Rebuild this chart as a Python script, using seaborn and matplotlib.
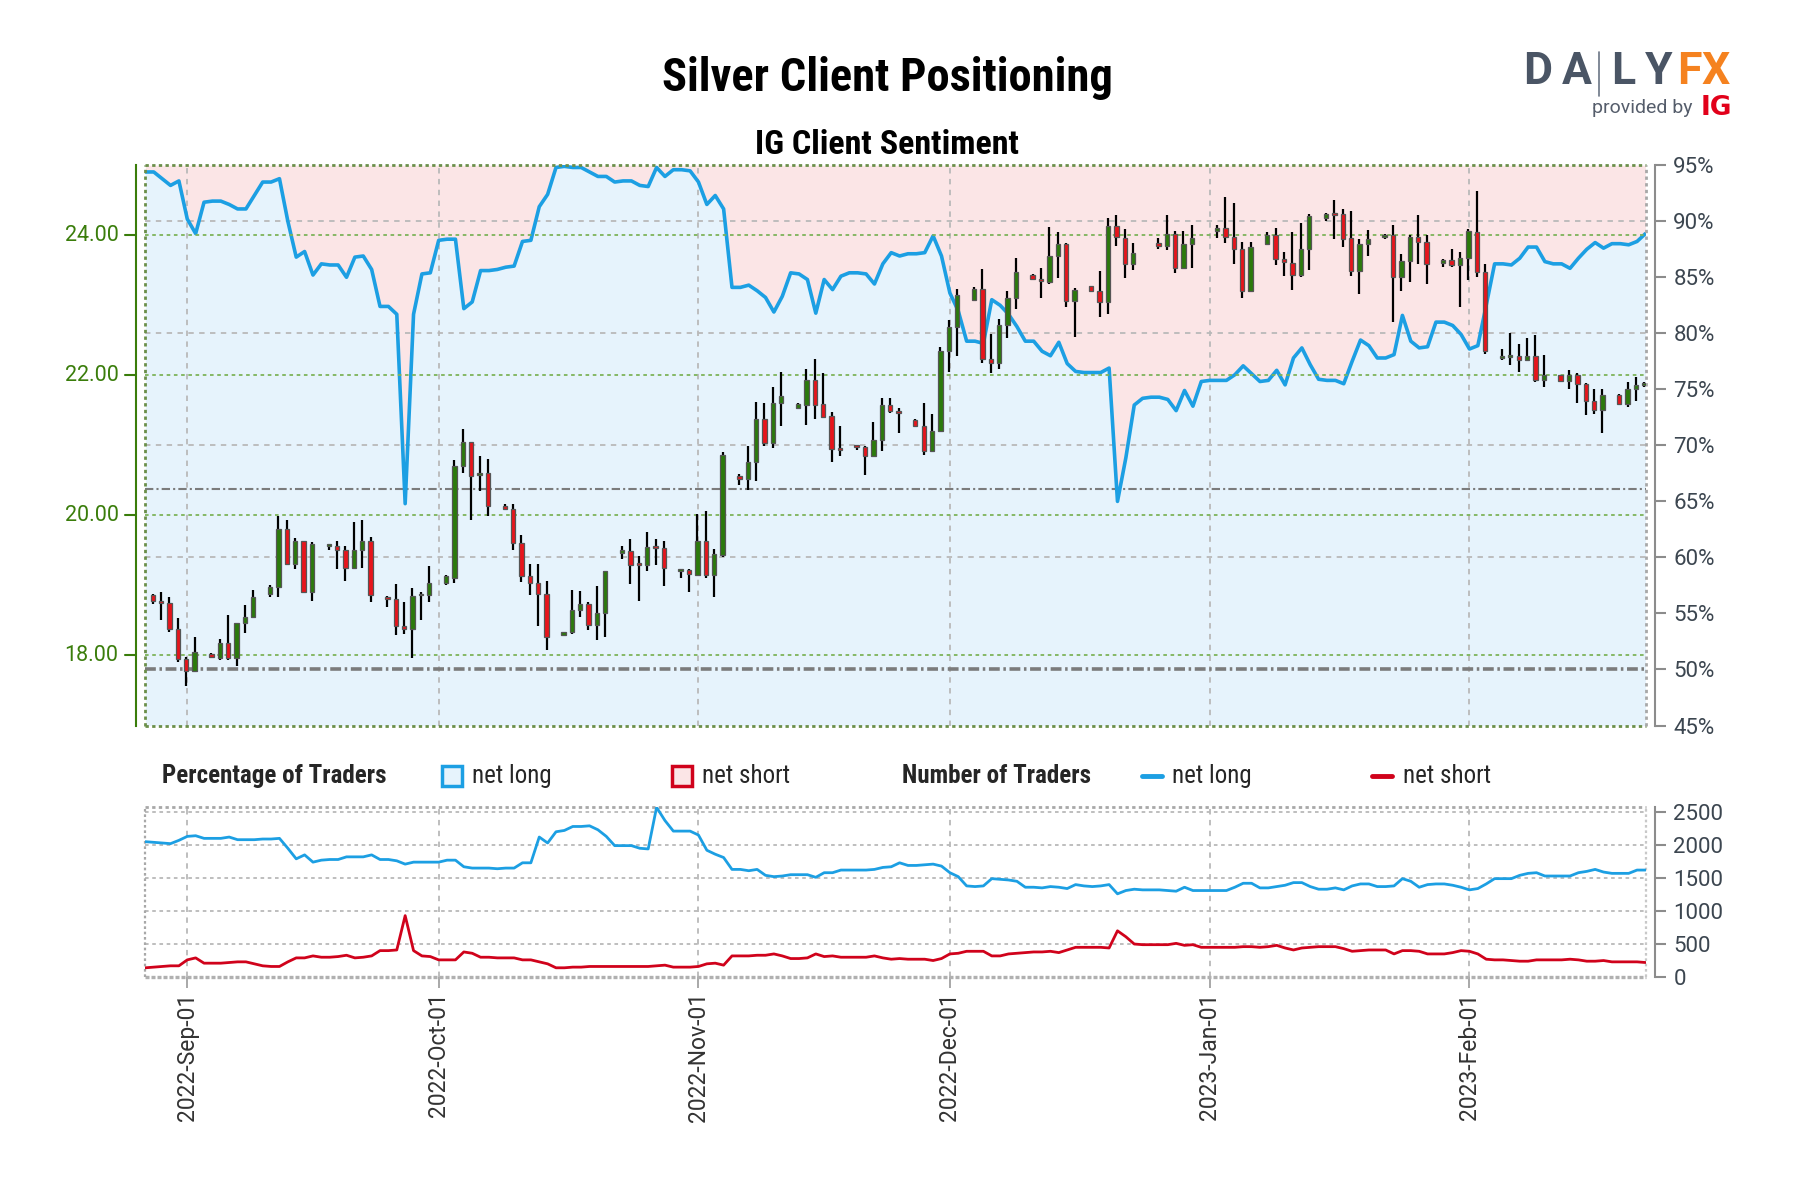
import numpy as np
import pandas as pd
import matplotlib
matplotlib.use("Agg")
import matplotlib.pyplot as plt
import matplotlib.dates as mdates
from matplotlib import font_manager
from matplotlib.lines import Line2D
from matplotlib.patches import Rectangle
import seaborn as sns

sns.set_style("white")
installed = {f.name for f in font_manager.fontManager.ttflist}
NARROW = next((n for n in ["Roboto Condensed", "Liberation Sans Narrow", "DejaVu Sans"] if n in installed), "DejaVu Sans")
plt.rcParams["font.family"] = ["Roboto", "DejaVu Sans"]

# ---- daily candles (Sun-Fri bars) ----
holidays = [pd.Timestamp("2022-12-25"), pd.Timestamp("2023-01-01")]
candle_dates = [d for d in pd.date_range("2022-08-28", "2023-02-22")
                if d.dayofweek != 5 and d not in holidays]

opens = [18.87, 18.78, 18.75, 18.38, 17.95, 17.78,
         18.02, 17.97, 18.18, 17.97, 18.46, 18.55,
         18.88, 18.98, 19.81, 19.31, 19.63, 18.91,
         19.56, 19.57, 19.51, 19.25, 19.50, 19.64,
         18.84, 18.81, 18.42, 18.38, 18.86, 18.86,
         19.03, 19.11, 20.70, 21.05, 20.57, 20.60,
         20.14, 20.09, 19.60, 19.14, 19.03, 18.88,
         18.29, 18.33, 18.65, 18.73, 18.43, 18.61,
         19.47, 19.49, 19.31, 19.29, 19.55, 19.54,
         19.20, 19.22, 19.15, 19.63, 19.15, 19.44,
         20.56, 20.52, 20.76, 21.37, 21.04, 21.60,
         21.54, 21.58, 21.93, 21.59, 21.42, 20.96,
         20.99, 20.98, 20.85, 21.08, 21.58, 21.49,
         21.36, 21.28, 20.92, 21.21, 22.35, 22.69,
         23.08, 23.23, 22.24, 22.18, 22.72, 23.10,
         23.43, 23.37, 23.33, 23.70, 23.88, 23.06,
         23.27, 23.21, 23.05, 24.13, 23.96, 23.59,
         23.89, 23.84, 24.02, 23.53, 23.87,
         24.06, 24.11, 23.97, 23.80, 23.21,
         23.87, 24.00, 23.66, 23.61, 23.43, 23.81,
         24.24, 24.30, 24.30, 23.96, 23.49, 23.87,
         23.97, 24.01, 23.40, 23.63, 23.97, 23.91,
         23.60, 23.64, 23.57, 23.67, 24.05, 23.47,
         22.25, 22.26, 22.28, 22.22, 22.28, 21.93,
         22.00, 21.92, 22.01, 21.87, 21.64, 21.51,
         21.72, 21.59, 21.80, 21.86]
highs = [18.88, 18.90, 18.84, 18.53, 17.98, 18.27,
         18.03, 18.24, 18.58, 18.47, 18.72, 18.94,
         19.00, 19.99, 19.94, 19.68, 19.64, 19.62,
         19.59, 19.64, 19.56, 19.91, 19.93, 19.69,
         18.85, 19.02, 18.77, 18.97, 18.90, 19.28,
         19.15, 20.79, 21.24, 21.05, 20.85, 20.81,
         20.17, 20.16, 19.72, 19.30, 19.30, 19.06,
         18.34, 18.93, 18.92, 18.77, 18.99, 19.21,
         19.56, 19.67, 19.42, 19.77, 19.67, 19.64,
         19.24, 19.24, 20.02, 20.06, 19.52, 20.90,
         20.59, 20.99, 21.62, 21.60, 21.83, 22.05,
         21.60, 22.09, 22.24, 22.04, 21.47, 21.28,
         21.01, 20.99, 21.33, 21.67, 21.67, 21.54,
         21.37, 21.61, 21.45, 22.40, 22.79, 23.23,
         23.26, 23.52, 22.59, 22.81, 23.21, 23.68,
         23.44, 23.53, 24.12, 24.05, 23.89, 23.25,
         23.28, 23.49, 24.25, 24.29, 24.09, 23.89,
         23.96, 24.29, 24.06, 24.06, 24.14,
         24.14, 24.55, 24.46, 23.91, 23.91,
         24.04, 24.10, 23.76, 24.04, 24.18, 24.30,
         24.32, 24.51, 24.37, 24.35, 23.94, 24.07,
         24.02, 24.15, 23.73, 24.00, 24.29, 24.01,
         23.66, 23.80, 23.76, 24.09, 24.63, 23.59,
         22.38, 22.61, 22.45, 22.53, 22.58, 22.29,
         22.01, 22.08, 22.04, 21.89, 21.81, 21.80,
         21.73, 21.90, 21.97, 21.90]
lows = [18.74, 18.51, 18.34, 17.91, 17.56, 17.77,
        17.97, 17.94, 17.94, 17.85, 18.32, 18.53,
        18.84, 18.84, 19.29, 19.24, 18.90, 18.78,
        19.50, 19.23, 19.07, 19.25, 19.25, 18.77,
        18.69, 18.29, 18.31, 17.96, 18.50, 18.77,
        19.00, 19.04, 20.61, 19.94, 20.35, 19.99,
        20.08, 19.51, 19.05, 18.86, 18.42, 18.08,
        18.28, 18.31, 18.55, 18.36, 18.22, 18.27,
        19.38, 19.02, 18.78, 19.21, 19.29, 18.99,
        19.10, 18.90, 19.15, 19.11, 18.84, 19.41,
        20.44, 20.37, 20.49, 20.99, 20.96, 21.28,
        21.53, 21.29, 21.38, 21.41, 20.76, 20.85,
        20.94, 20.58, 20.84, 20.92, 21.46, 21.17,
        21.27, 20.86, 20.90, 21.20, 22.05, 22.28,
        23.06, 22.17, 22.03, 22.09, 22.54, 22.95,
        23.36, 23.10, 23.31, 23.39, 22.97, 22.55,
        23.20, 22.84, 22.88, 23.84, 23.39, 23.51,
        23.80, 23.79, 23.46, 23.52, 23.53,
        23.96, 23.89, 23.59, 23.11, 23.20,
        23.86, 23.58, 23.42, 23.22, 23.41, 23.50,
        24.20, 23.94, 23.83, 23.42, 23.16, 23.71,
        23.94, 22.76, 23.21, 23.33, 23.59, 23.30,
        23.54, 23.54, 22.97, 23.36, 23.41, 22.30,
        22.22, 22.15, 22.05, 22.21, 21.90, 21.83,
        21.91, 21.80, 21.61, 21.43, 21.45, 21.18,
        21.59, 21.55, 21.64, 21.84]
closes = [18.78, 18.75, 18.38, 17.95, 17.78, 18.05,
          17.98, 18.18, 17.97, 18.47, 18.55, 18.84,
          18.98, 19.81, 19.31, 19.63, 18.91, 19.59,
          19.58, 19.51, 19.25, 19.50, 19.64, 18.86,
          18.81, 18.42, 18.38, 18.85, 18.88, 19.03,
          19.13, 20.70, 21.05, 20.56, 20.60, 20.13,
          20.09, 19.60, 19.14, 19.03, 18.88, 18.27,
          18.33, 18.65, 18.73, 18.43, 18.61, 19.20,
          19.50, 19.29, 19.29, 19.55, 19.54, 19.25,
          19.23, 19.16, 19.63, 19.15, 19.45, 20.86,
          20.52, 20.76, 21.38, 21.04, 21.60, 21.71,
          21.59, 21.93, 21.58, 21.41, 20.95, 20.94,
          20.98, 20.85, 21.08, 21.58, 21.49, 21.46,
          21.28, 20.92, 21.21, 22.35, 22.69, 23.15,
          23.23, 22.24, 22.18, 22.72, 23.10, 23.48,
          23.37, 23.35, 23.70, 23.88, 23.06, 23.22,
          23.21, 23.05, 24.13, 23.97, 23.59, 23.75,
          23.84, 24.02, 23.53, 23.87, 23.96,
          24.11, 23.97, 23.80, 23.21, 23.83,
          24.00, 23.66, 23.62, 23.43, 23.81, 24.27,
          24.30, 24.29, 23.94, 23.49, 23.87, 23.94,
          24.01, 23.40, 23.63, 23.97, 23.91, 23.59,
          23.64, 23.57, 23.68, 24.06, 23.47, 22.35,
          22.27, 22.28, 22.22, 22.28, 21.93, 22.01,
          21.92, 22.01, 21.87, 21.63, 21.51, 21.72,
          21.59, 21.80, 21.86, 21.88]

# ---- daily client sentiment ----
sent_dates = pd.date_range("2022-08-27", "2023-02-22")
pct_long = [94.4, 94.4, 93.8, 93.2, 93.6, 90.2, 88.9, 91.7, 91.8, 91.8,
            91.5, 91.1, 91.1, 92.3, 93.5, 93.5, 93.8, 90.0, 86.8, 87.3,
            85.2, 86.2, 86.1, 86.1, 85.0, 86.8, 86.9, 85.7, 82.4, 82.4,
            81.7, 64.8, 81.7, 85.3, 85.4, 88.3, 88.4, 88.4, 82.2, 82.8,
            85.6, 85.6, 85.7, 85.9, 86.0, 88.2, 88.3, 91.3, 92.4, 94.8,
            94.9, 94.8, 94.8, 94.4, 94.0, 94.0, 93.5, 93.6, 93.6, 93.2,
            93.1, 94.8, 94.0, 94.6, 94.6, 94.5, 93.5, 91.5, 92.3, 91.1,
            84.1, 84.1, 84.3, 83.8, 83.2, 81.9, 83.3, 85.4, 85.3, 84.8,
            81.8, 84.8, 83.9, 85.1, 85.4, 85.4, 85.3, 84.4, 86.2, 87.2,
            86.9, 87.1, 87.1, 87.2, 88.7, 86.9, 83.6, 82.0, 79.3, 79.3,
            79.1, 83.0, 82.5, 81.7, 80.6, 79.3, 79.3, 78.4, 78.0, 79.2,
            77.3, 76.6, 76.5, 76.5, 76.5, 76.9, 65.0, 68.9, 73.6, 74.2,
            74.3, 74.3, 74.1, 73.1, 74.9, 73.5, 75.7, 75.8, 75.8, 75.8,
            76.3, 77.1, 76.4, 75.7, 75.8, 76.7, 75.4, 77.8, 78.7, 77.2,
            75.9, 75.8, 75.8, 75.5, 77.5, 79.4, 78.9, 77.8, 77.8, 78.1,
            81.6, 79.3, 78.7, 78.8, 81.0, 81.0, 80.7, 79.9, 78.6, 78.9,
            82.5, 86.2, 86.2, 86.1, 86.7, 87.7, 87.7, 86.4, 86.2, 86.2,
            85.8, 86.7, 87.5, 88.1, 87.6, 88.0, 88.0, 87.9, 88.2, 88.9]
n_long = [2050, 2040, 2030, 2020, 2070, 2130, 2140, 2100, 2100, 2100,
          2120, 2080, 2080, 2080, 2090, 2090, 2100, 1950, 1790, 1850,
          1740, 1770, 1780, 1780, 1820, 1820, 1820, 1850, 1780, 1780,
          1760, 1710, 1740, 1740, 1740, 1740, 1770, 1770, 1670, 1650,
          1650, 1650, 1640, 1650, 1650, 1730, 1730, 2120, 2030, 2200,
          2220, 2280, 2280, 2290, 2230, 2130, 1990, 1990, 1990, 1950,
          1940, 2570, 2370, 2210, 2210, 2210, 2150, 1920, 1860, 1810,
          1630, 1630, 1610, 1630, 1540, 1520, 1530, 1550, 1550, 1550,
          1510, 1580, 1580, 1620, 1620, 1620, 1620, 1630, 1660, 1670,
          1730, 1690, 1690, 1700, 1710, 1680, 1580, 1520, 1380, 1370,
          1380, 1490, 1480, 1470, 1450, 1360, 1360, 1350, 1370, 1360,
          1340, 1400, 1380, 1370, 1380, 1400, 1260, 1310, 1330, 1320,
          1320, 1320, 1310, 1300, 1360, 1310, 1310, 1310, 1310, 1310,
          1360, 1420, 1420, 1350, 1350, 1370, 1390, 1430, 1430, 1370,
          1330, 1330, 1350, 1320, 1380, 1410, 1410, 1370, 1370, 1380,
          1490, 1450, 1360, 1400, 1410, 1410, 1390, 1360, 1320, 1340,
          1410, 1490, 1490, 1490, 1540, 1570, 1580, 1530, 1530, 1530,
          1530, 1580, 1600, 1630, 1590, 1570, 1570, 1570, 1620, 1620]
n_short = [140, 150, 160, 170, 170, 260, 290, 210, 210, 210,
           220, 230, 230, 200, 170, 160, 160, 230, 290, 290,
           320, 300, 300, 310, 330, 290, 300, 320, 400, 400,
           410, 930, 400, 320, 310, 260, 260, 260, 380, 360,
           300, 300, 290, 290, 290, 260, 260, 230, 200, 140,
           140, 150, 150, 160, 160, 160, 160, 160, 160, 160,
           160, 170, 180, 150, 150, 150, 160, 200, 210, 180,
           320, 320, 320, 330, 330, 350, 320, 280, 280, 290,
           350, 310, 320, 300, 300, 300, 300, 320, 290, 270,
           280, 270, 270, 270, 250, 280, 350, 360, 390, 390,
           390, 320, 320, 350, 360, 370, 380, 380, 390, 370,
           410, 450, 450, 450, 450, 440, 700, 610, 500, 490,
           490, 490, 490, 510, 480, 490, 450, 450, 450, 450,
           450, 460, 460, 450, 460, 480, 440, 410, 440, 450,
           460, 460, 460, 430, 390, 400, 410, 410, 410, 350,
           400, 400, 390, 350, 350, 350, 370, 400, 390, 350,
           270, 260, 260, 250, 240, 240, 260, 260, 260, 260,
           270, 260, 240, 240, 250, 230, 230, 230, 230, 220]

month_starts = pd.to_datetime(["2022-09-01", "2022-10-01", "2022-11-01",
                               "2022-12-01", "2023-01-01", "2023-02-01"])
price_ticks = [18, 20, 22, 24]

BLUE = "#1c9fe3"
RED = "#d0021b"
GREEN_TXT = "#3a7d0b"
GRID = "#b9b9b9"
TXT = "#3c4650"

fig = plt.figure(figsize=(18, 12), dpi=100)
ax_pct = fig.add_axes([0.0803, 0.3954, 0.8343, 0.4669])
ax_price = ax_pct.twinx()
ax_cnt = fig.add_axes([0.0803, 0.1858, 0.8343, 0.1417], sharex=ax_pct)

x0 = pd.Timestamp("2022-09-01") - pd.Timedelta(days=5.1)
x1 = pd.Timestamp("2022-09-01") + pd.Timedelta(days=174.1)

# sentiment background + line
ax_pct.fill_between(sent_dates, pct_long, 95, color="#fbe5e6", lw=0, zorder=0)
ax_pct.fill_between(sent_dates, 45, pct_long, color="#e6f3fc", lw=0, zorder=0)
for p in [60, 70, 80, 90]:
    ax_pct.axhline(p, color=GRID, lw=1.3, ls=(0, (3, 3)), zorder=1)
for m in month_starts:
    ax_pct.axvline(m, color=GRID, lw=1.3, ls=(0, (3, 3)), zorder=1)
ax_pct.axhline(50, color="#7b7b7b", lw=2.6, ls=(0, (3, 1, 0.7, 1)), zorder=2)
ax_pct.axhline(66.1, color="#7b7b7b", lw=1.5, ls=(0, (4, 1.5, 1, 1.5)), zorder=2)
sns.lineplot(x=sent_dates, y=pct_long, ax=ax_pct, color=BLUE, lw=2.6, zorder=3)
ax_pct.set_ylim(45, 95)
ax_pct.set_xlim(x0, x1)

# price gridlines and candles
for p in price_ticks:
    ax_price.axhline(p, color="#7db35a", lw=1.3, ls=(0, (2, 2)), zorder=1)
for p in [17, 25]:
    ax_price.axhline(p, color="#6b8f4a", lw=2.0, ls=(0, (1.2, 1.2)), zorder=1, clip_on=False)
ax_price.axvline(x0, color="#6b8f4a", lw=2.0, ls=(0, (1.2, 1.2)), clip_on=False)
ax_price.axvline(x1, color="#a8a8a8", lw=2.0, ls=(0, (1.2, 1.2)), clip_on=False)

cx = pd.DatetimeIndex(candle_dates) - pd.Timedelta(hours=3)
o = np.array(opens)
c = np.array(closes)
up = c >= o
body_lo = np.minimum(o, c)
body_h = np.maximum(np.abs(c - o), 0.025)
ax_price.vlines(cx, lows, highs, color="black", lw=1.6, zorder=3)
ax_price.bar(cx, body_h, bottom=body_lo, width=0.52,
             color=np.where(up, "#2b7a0b", "#e8141b"),
             edgecolor="#555555", linewidth=0.9, zorder=4)
ax_price.set_ylim(17, 25)

# left price scale: green spine pushed out, ticks and labels placed in pixels
for s in ax_pct.spines.values():
    s.set_visible(False)
for s in ax_price.spines.values():
    s.set_visible(False)
ax_price.spines["left"].set_visible(True)
ax_price.spines["left"].set_color(GREEN_TXT)
ax_price.spines["left"].set_linewidth(1.5)
ax_price.spines["left"].set_position(("outward", 6.5))
ax_price.spines["left"].set_bounds(17, 25)
ax_price.set_yticks([])
px = 1 / (0.8343 * 1800)
ytr = ax_price.get_yaxis_transform()
for p in price_ticks:
    ax_price.add_line(Line2D([-9 * px, -20 * px], [p, p], transform=ytr,
                             color=GREEN_TXT, lw=1.5, clip_on=False))
    ax_price.text(-26 * px, p, f"{p:.2f}", transform=ytr, ha="right", va="center",
                  fontsize=15.5, color=GREEN_TXT, clip_on=False)

ax_pct.spines["right"].set_visible(True)
ax_pct.spines["right"].set_color("#8c8c8c")
ax_pct.spines["right"].set_linewidth(1.5)
ax_pct.spines["right"].set_position(("outward", 6.5))
ax_pct.yaxis.tick_right()
ax_pct.set_yticks(list(range(45, 100, 5)))
ax_pct.set_yticklabels([f"{v}%" for v in range(45, 100, 5)])
ax_pct.tick_params(axis="y", right=True, left=False, color="#8c8c8c", labelcolor=TXT,
                   length=8, width=1.5, labelsize=16, pad=5)
ax_pct.tick_params(axis="x", length=0, labelbottom=False)
ax_price.tick_params(axis="x", length=0, labelbottom=False)
ax_pct.set_xlabel("")
ax_pct.set_ylabel("")
ax_price.set_ylabel("")

# ---- number of traders panel ----
cnt_top = 2575
for v in [500, 1000, 1500, 2000, 2500]:
    ax_cnt.axhline(v, color=GRID, lw=1.3, ls=(0, (2, 2)), zorder=1)
for m in month_starts:
    ax_cnt.axvline(m, color=GRID, lw=1.3, ls=(0, (3, 3)), zorder=1)
ax_cnt.axhline(cnt_top, color="#a8a8a8", lw=2.0, ls=(0, (1.2, 1.2)), clip_on=False)
ax_cnt.axhline(0, color="#b0b0b0", lw=2.4, ls=(0, (1.2, 0.6)), clip_on=False)
ax_cnt.axvline(x0, color="#a8a8a8", lw=1.6, ls=(0, (1.2, 1.2)), clip_on=False)
ax_cnt.axvline(x1, color="#c8c8c8", lw=1.6, ls=(0, (1.2, 1.2)), clip_on=False)
sns.lineplot(x=sent_dates, y=n_long, ax=ax_cnt, color=BLUE, lw=2.0, zorder=3)
sns.lineplot(x=sent_dates, y=n_short, ax=ax_cnt, color=RED, lw=2.0, zorder=3)
ax_cnt.set_ylim(0, cnt_top)
ax_cnt.set_xlim(x0, x1)
for s in ax_cnt.spines.values():
    s.set_visible(False)
ax_cnt.spines["right"].set_visible(True)
ax_cnt.spines["right"].set_color("#8c8c8c")
ax_cnt.spines["right"].set_linewidth(1.5)
ax_cnt.spines["right"].set_position(("outward", 6.5))
ax_cnt.yaxis.tick_right()
ax_cnt.set_yticks([0, 500, 1000, 1500, 2000, 2500])
ax_cnt.tick_params(axis="y", right=True, left=False, color="#8c8c8c", labelcolor=TXT,
                   length=8, width=1.5, labelsize=16, pad=5)
ax_cnt.set_xticks(month_starts)
ax_cnt.xaxis.set_major_formatter(mdates.DateFormatter("%Y-%b-%d"))
ax_cnt.tick_params(axis="x", bottom=True, color="#9a9a9a", labelcolor="#333333", length=8, width=1.2,
                   labelsize=16.5, labelrotation=90, pad=3)
ax_cnt.set_xlabel("")
ax_cnt.set_ylabel("")

# ---- titles ----
fig.text(0.4928, 1 - 78 / 1200, "Silver Client Positioning", ha="center", va="center",
         fontsize=33.5, fontweight="bold", family=NARROW, color="black")
fig.text(0.4928, 1 - 145 / 1200, "IG Client Sentiment", ha="center", va="center",
         fontsize=24.5, fontweight="bold", family=NARROW, color="black")

# ---- legend row ----
ly = 1 - 776 / 1200
fig.text(162 / 1800, ly, "Percentage of Traders", ha="left", va="center",
         fontsize=18, fontweight="bold", family=NARROW)
fig.add_artist(Rectangle((442 / 1800, 1 - 786 / 1200), 20 / 1800, 20 / 1200,
                         transform=fig.transFigure, facecolor="#e6f3fc", edgecolor=BLUE, lw=2.5))
fig.text(472 / 1800, ly, "net long", ha="left", va="center", fontsize=18, family=NARROW)
fig.add_artist(Rectangle((672 / 1800, 1 - 786 / 1200), 20 / 1800, 20 / 1200,
                         transform=fig.transFigure, facecolor="#fbe5e6", edgecolor=RED, lw=2.5))
fig.text(702 / 1800, ly, "net short", ha="left", va="center", fontsize=18, family=NARROW)
fig.text(902 / 1800, ly, "Number of Traders", ha="left", va="center",
         fontsize=18, fontweight="bold", family=NARROW)
fig.add_artist(Line2D([1142 / 1800, 1162 / 1800], [ly, ly], transform=fig.transFigure, color=BLUE, lw=3.5))
fig.text(1172 / 1800, ly, "net long", ha="left", va="center", fontsize=18, family=NARROW)
fig.add_artist(Line2D([1372 / 1800, 1392 / 1800], [ly, ly], transform=fig.transFigure, color=RED, lw=3.5))
fig.text(1403 / 1800, ly, "net short", ha="left", va="center", fontsize=18, family=NARROW)

# ---- DailyFX logo ----
logo_y = 1 - 72 / 1200
for ch, xc, col in [("D", 1538, "#4a5565"), ("A", 1577, "#4a5565"), ("L", 1623, "#4a5565"),
                    ("Y", 1659, "#4a5565"), ("F", 1689, "#f5821f"), ("X", 1716, "#f5821f")]:
    fig.text(xc / 1800, logo_y, ch, ha="center", va="center", fontsize=32,
             fontweight="bold", family="Roboto", color=col)
fig.add_artist(Line2D([1599 / 1800, 1599 / 1800], [1 - 52 / 1200, 1 - 96 / 1200],
                      transform=fig.transFigure, color="#6b7585", lw=1.2))
fig.text(1693 / 1800, 1 - 108 / 1200, "provided by", ha="right", va="center",
         fontsize=14, color="#555d6b", family="Roboto")
fig.text(1716 / 1800, 1 - 108 / 1200, "IG", ha="center", va="center",
         fontsize=19, fontweight="bold", color="#e2001a", family="DejaVu Sans")

fig.savefig("out.png", dpi=100, facecolor="white")
